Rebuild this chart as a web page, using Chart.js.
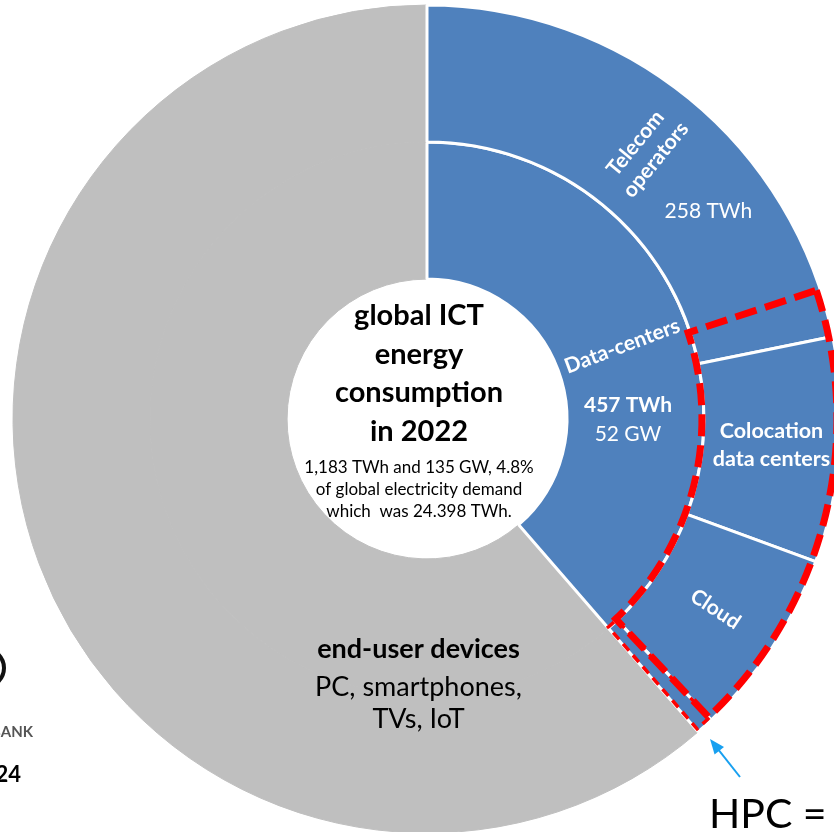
<!DOCTYPE html>
<html>
<head>
<meta charset="utf-8">
<script src="https://cdn.jsdelivr.net/npm/chart.js@4"></script>
<style>
  html, body { margin: 0; padding: 0; background: #fff; overflow: hidden; width: 834px; height: 832px; }
  #wrap { position: absolute; left: 0; top: 0; width: 854px; height: 838px; }
</style>
</head>
<body>
<div id="wrap"><canvas id="c" width="854" height="838"></canvas></div>
<script>
// Global ICT electricity use in 2022 (TWh)
const innerLabels = ['end-user devices', 'Data-centers'];
const innerValues = [726, 457];
const outerLabels = ['end-user devices', 'Telecom operators', 'Colocation data centers', 'Cloud', 'HPC'];
const outerValues = [726, 258, 104, 87, 8];
const dataCenterPowerGW = 52;
const totalTWh = 1183;
const totalGW = 135;
const shareOfDemand = '4.8%';
const globalDemand = '24.398 TWh';

const BLUE = '#4F81BD';
const GREY = '#BFBFBF';
const FONT = 'Lato, "Open Sans", sans-serif';

const innerColors = innerLabels.map((l, i) => i === 0 ? GREY : BLUE);
const outerColors = outerLabels.map((l, i) => i === 0 ? GREY : BLUE);
const innerBorders = innerLabels.map((l, i) => i === 0 ? GREY : '#FFFFFF');
const outerBorders = outerLabels.map((l, i) => i === 0 ? GREY : '#FFFFFF');
const innerBorderW = innerLabels.map((l, i) => i === 0 ? 1 : 3);
const outerBorderW = outerLabels.map((l, i) => i === 0 ? 1 : 3);

const sum = innerValues.reduce((a, b) => a + b, 0);
// start the grey end-user sector so that the ICT sectors begin at 12 o'clock
const startRotation = -innerValues[0] / sum * 360;

const deg = Math.PI / 180;

function props(arc) {
  return arc.getProps(['x', 'y', 'startAngle', 'endAngle', 'innerRadius', 'outerRadius'], true);
}

function dashedSector(ctx, cx, cy, a0, a1, rIn, rOut, width, dash) {
  ctx.save();
  ctx.strokeStyle = '#FF0000';
  ctx.lineWidth = width;
  ctx.setLineDash(dash);
  ctx.lineJoin = 'miter';
  ctx.beginPath();
  ctx.arc(cx, cy, rOut, a0, a1, false);
  ctx.lineTo(cx + Math.cos(a1) * rIn, cy + Math.sin(a1) * rIn);
  ctx.arc(cx, cy, rIn, a1, a0, true);
  ctx.closePath();
  ctx.stroke();
  ctx.restore();
}

function textAt(ctx, x, y, rot, lines, font, lineH, color) {
  ctx.save();
  ctx.translate(x, y);
  ctx.rotate(rot);
  ctx.font = font;
  ctx.fillStyle = color;
  ctx.textAlign = 'center';
  ctx.textBaseline = 'middle';
  const off = (lines.length - 1) * lineH / 2;
  lines.forEach((t, i) => ctx.fillText(t, 0, i * lineH - off));
  ctx.restore();
}

function polar(p, angle, r) {
  return [p.x + Math.cos(angle) * r, p.y + Math.sin(angle) * r];
}

const annotations = {
  id: 'annotations',
  afterDatasetsDraw(chart) {
    const ctx = chart.ctx;
    const outer = chart.getDatasetMeta(0).data.map(props);
    const inner = chart.getDatasetMeta(1).data.map(props);
    const telecom = outer[1], coloc = outer[2], cloud = outer[3], hpc = outer[4];
    const dc = inner[1];
    const cx = dc.x, cy = dc.y;

    // dashed red frames round the data-center segments and the HPC sliver
    dashedSector(ctx, cx, cy, hpc.startAngle, hpc.endAngle - 0.15 * deg,
      hpc.innerRadius - 1, hpc.outerRadius - 3, 3.5, [9, 6]);
    dashedSector(ctx, cx, cy, telecom.endAngle - 6.8 * deg, cloud.endAngle,
      coloc.innerRadius - 2, coloc.outerRadius - 4, 7, [22, 9]);

    const mid = a => (a.startAngle + a.endAngle) / 2;
    const midR = a => (a.innerRadius + a.outerRadius) / 2;

    // telecom
    let [x, y] = polar(telecom, mid(telecom), midR(telecom));
    textAt(ctx, x, y, mid(telecom), ['Telecom', 'operators'], 'bold 21px ' + FONT, 26, '#fff');
    const tA = telecom.startAngle + 0.683 * (telecom.endAngle - telecom.startAngle);
    [x, y] = polar(telecom, tA, midR(telecom) + 4);
    textAt(ctx, x, y, 0, [outerValues[1] + ' TWh'], '21px ' + FONT, 0, '#fff');

    // data-centers (inner ring)
    [x, y] = polar(dc, mid(dc), midR(dc));
    textAt(ctx, x, y, mid(dc), ['Data-centers'], 'bold 21px ' + FONT, 0, '#fff');
    const dA = dc.startAngle + 0.647 * (dc.endAngle - dc.startAngle);
    [x, y] = polar(dc, dA, 201);
    textAt(ctx, x, y - 14, 0, [innerValues[1] + ' TWh'], 'bold 21px ' + FONT, 0, '#fff');
    textAt(ctx, x, y + 15, 0, [dataCenterPowerGW + ' GW'], '21px ' + FONT, 0, '#fff');

    // colocation
    [x, y] = polar(coloc, mid(coloc), midR(coloc));
    textAt(ctx, x, y, 0, ['Colocation', 'data centers'], 'bold 21.5px ' + FONT, 28, '#fff');

    // cloud
    [x, y] = polar(cloud, mid(cloud), midR(cloud));
    textAt(ctx, x, y, mid(cloud), ['Cloud'], 'bold 21px ' + FONT, 0, '#fff');

    // centre title
    ctx.save();
    ctx.fillStyle = '#000';
    ctx.textAlign = 'center';
    ctx.textBaseline = 'alphabetic';
    const tx = cx - 8;
    ctx.font = 'bold 29px ' + FONT;
    ['global ICT', 'energy', 'consumption', 'in 2022'].forEach((t, i) => {
      ctx.fillText(t, tx, cy - 94 + i * 38.5);
    });
    ctx.font = '17px ' + FONT;
    [totalTWh.toLocaleString('en-US') + ' TWh and ' + totalGW + ' GW, ' + shareOfDemand,
     'of global electricity demand',
     'which  was ' + globalDemand + '.'].forEach((t, i) => {
      ctx.fillText(t, tx, cy + 54 + i * 22);
    });

    // end-user devices
    ctx.font = 'bold 27px ' + FONT;
    ctx.fillText(innerLabels[0], tx - 0.5, cy + 239);
    ctx.font = '27px ' + FONT;
    ctx.fillText('PC, smartphones,', tx - 0.5, cy + 277);
    ctx.fillText('TVs, IoT', tx - 0.5, cy + 309);
    ctx.restore();
  },
  afterDraw(chart) {
    const ctx = chart.ctx;
    ctx.save();
    // arrow pointing at the HPC sliver
    ctx.strokeStyle = '#18A0F0';
    ctx.fillStyle = '#18A0F0';
    ctx.lineWidth = 2;
    const x0 = 740, y0 = 777, x1 = 710, y1 = 739;
    const ang = Math.atan2(y1 - y0, x1 - x0);
    ctx.beginPath();
    ctx.moveTo(x0, y0);
    ctx.lineTo(x1 - Math.cos(ang) * 10, y1 - Math.sin(ang) * 10);
    ctx.stroke();
    ctx.beginPath();
    ctx.moveTo(x1, y1);
    ctx.lineTo(x1 - Math.cos(ang) * 15 + Math.cos(ang + Math.PI / 2) * 6,
               y1 - Math.sin(ang) * 15 + Math.sin(ang + Math.PI / 2) * 6);
    ctx.lineTo(x1 - Math.cos(ang) * 15 - Math.cos(ang + Math.PI / 2) * 6,
               y1 - Math.sin(ang) * 15 - Math.sin(ang + Math.PI / 2) * 6);
    ctx.closePath();
    ctx.fill();

    ctx.fillStyle = '#000';
    ctx.font = '41px ' + FONT;
    ctx.textAlign = 'left';
    ctx.textBaseline = 'alphabetic';
    ctx.fillText('HPC =', 709, 828);

    // logo fragment on the left edge
    ctx.strokeStyle = '#111';
    ctx.lineWidth = 4;
    ctx.beginPath();
    ctx.arc(-15, 668, 19, 0, Math.PI * 2);
    ctx.stroke();
    ctx.textAlign = 'right';
    ctx.fillStyle = '#555';
    ctx.font = 'bold 15px ' + FONT;
    ctx.fillText('BANK', 33, 737);
    ctx.fillStyle = '#000';
    ctx.font = 'bold 22px ' + FONT;
    ctx.fillText('2024', 21, 782);
    ctx.restore();
  }
};

new Chart(document.getElementById('c'), {
  type: 'doughnut',
  data: {
    labels: outerLabels,
    datasets: [
      {
        label: 'segments',
        data: outerValues,
        backgroundColor: outerColors,
        borderColor: outerBorders,
        borderWidth: outerBorderW,
        hoverBorderWidth: outerBorderW
      },
      {
        label: 'sectors',
        data: innerValues,
        backgroundColor: innerColors,
        borderColor: innerBorders,
        borderWidth: innerBorderW,
        hoverBorderWidth: innerBorderW
      }
    ]
  },
  options: {
    responsive: false,
    maintainAspectRatio: false,
    animation: false,
    radius: 414,
    cutout: '33.8%',
    rotation: startRotation,
    layout: { padding: 0 },
    plugins: {
      legend: { display: false },
      tooltip: { enabled: false }
    },
    events: []
  },
  plugins: [annotations]
});
</script>
</body>
</html>
